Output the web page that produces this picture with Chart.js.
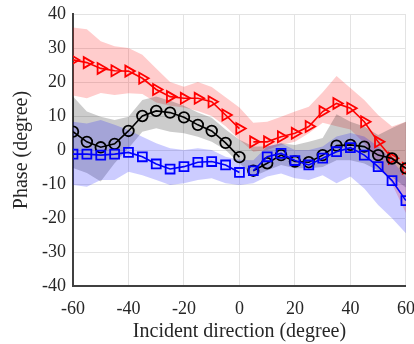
<!DOCTYPE html>
<html>
<head>
<meta charset="utf-8">
<script src="https://cdn.jsdelivr.net/npm/chart.js@4/dist/chart.umd.min.js"></script>
<style>
  html, body { margin: 0; padding: 0; background: #fff; }
  #box { width: 414px; height: 344px; }
</style>
</head>
<body>
<div id="box"><canvas id="graficoFase"></canvas></div>
<script>
const angulos = [-60, -55, -50, -45, -40, -35, -30, -25, -20, -15, -10, -5, 0,
                 5, 10, 15, 20, 25, 30, 35, 40, 45, 50, 55, 60];

const faseVermelho = [26.5, 25.7, 24, 23.3, 23.2, 21.1, 17.8, 15.7, 15.2, 15.2, 14.2, 10.3, 6.3,
                      2.4, 2.4, 3.9, 4.9, 6.9, 11.3, 13.7, 12.3, 8.3, 2.4, -2.4, -5.4];
const faseVermelhoSup = [36, 35.5, 32, 30.5, 30, 28, 24, 20, 18.6, 20, 18.5, 15.5, 12.5,
                         8, 8.3, 9.8, 11.3, 12.7, 17, 21.8, 18.2, 14.7, 10.3, 6.9, 8.3];
const faseVermelhoInf = [16, 15.2, 16.8, 16.2, 16.7, 16.5, 14, 13, 12.5, 11.5, 10, 7, 3,
                         -0.5, 0, 1.5, 2.4, 4.9, 8, 7, 6, 2, -4, -10, -18.5];

const fasePreto = [5.4, 2.4, 0.8, 1.8, 5.6, 10, 11.5, 11, 9.6, 7.4, 5.6, 2.1, -2.1,
                   -6.1, -3.9, -1.5, -3.4, -3.6, -1.5, 1.3, 1.5, 1, -1.5, -2.5, -5.4];
const fasePretoSup = [15.7, 11.3, 9.8, 8.8, 9.8, 14.7, 15.7, 14.5, 13, 11, 9.5, 6, 3,
                      1, 1, 2, 1.5, 2.4, 3.5, 10.5, 8.3, 6.9, 4.4, 6.5, 8.3];
const fasePretoInf = [-5.3, -6.8, -9.3, -3.9, 0.5, 5.4, 6.4, 5.4, 4.9, 3.9, 2.4, 0, -3.9,
                      -7.8, -6, -4.4, -5.4, -5.4, -5, -3, -3, -4, -6, -8, -11];

const faseAzul = [-1.2, -1.2, -1.5, -1.2, -0.7, -2, -4.1, -5.6, -4.9, -3.6, -3.4, -4.4, -6.6,
                  -6.1, -2, -1, -3.1, -4.4, -2.4, -0.5, 0.7, -1.5, -4.9, -9, -14.9];
const faseAzulSup = [8.3, 7.8, 8.8, 7.4, 5.9, 3.9, 2, 0.5, 0, 0.5, 0, -2, -2.9,
                     -3, 1, 2, 0, 0, 1, 4, 5, 4, 1, -3, -8];
const faseAzulInf = [-10.3, -10.8, -8.8, -8.8, -6.4, -7.4, -8.8, -10.3, -9.8, -8.8, -8.3, -9.8, -10.3,
                     -9.8, -7.8, -6.9, -8.3, -8.8, -7.4, -9.8, -7.8, -11.3, -16.2, -20.1, -24.5];

const ticksX = [-60, -40, -20, 0, 20, 40, 60];

function pontos(valores) {
    return angulos.map((a, i) => ({ x: a, y: valores[i] }));
}

function serieLinha(valores, cor, estilo, raio, rotacao) {
    return {
        data: pontos(valores),
        borderColor: cor,
        borderWidth: 1.6,
        pointStyle: estilo,
        pointRadius: raio,
        pointRotation: rotacao,
        pointBorderColor: cor,
        pointBorderWidth: 1.8,
        pointBackgroundColor: 'rgba(0,0,0,0)',
        fill: false,
        tension: 0,
        segment: {
            // a linha e interrompida entre 0 e 5 graus
            borderColor: ctx => ctx.p0.parsed.x === 0 ? 'rgba(0,0,0,0)' : undefined
        }
    };
}

function faixa(superior, inferior, corFundo) {
    return [{
        data: pontos(superior),
        borderWidth: 0,
        pointRadius: 0,
        backgroundColor: corFundo,
        fill: '+1',
        tension: 0
    }, {
        data: pontos(inferior),
        borderWidth: 0,
        pointRadius: 0,
        backgroundColor: corFundo,
        fill: false,
        tension: 0
    }];
}

const fonteSerif = 'Liberation Serif';
const corTexto = '#262626';

// o ultimo dataset e desenhado primeiro
const datasets = [
    serieLinha(faseAzul, '#0000ff', 'rect', 6.3, 0),
    serieLinha(fasePreto, '#000000', 'circle', 5.3, 0),
    serieLinha(faseVermelho, '#ff0000', 'triangle', 6.3, 90),
    ...faixa(faseAzulSup, faseAzulInf, 'rgba(0,0,255,0.2)'),
    ...faixa(fasePretoSup, fasePretoInf, 'rgba(0,0,0,0.2)'),
    ...faixa(faseVermelhoSup, faseVermelhoInf, 'rgba(255,0,0,0.2)')
];

new Chart(document.getElementById('graficoFase').getContext('2d'), {
    type: 'line',
    data: { datasets: datasets },
    options: {
        responsive: true,
        maintainAspectRatio: false,
        animation: false,
        layout: {
            padding: { top: 14, right: 7, left: 0, bottom: 0 }
        },
        plugins: {
            legend: { display: false },
            tooltip: { enabled: false }
        },
        scales: {
            x: {
                type: 'linear',
                min: -60,
                max: 60,
                afterBuildTicks: scale => {
                    scale.ticks = ticksX.map(v => ({ value: v }));
                },
                afterFit: scale => {
                    scale.height = 58;
                    scale.paddingLeft = 0;
                    scale.paddingRight = 0;
                },
                grid: {
                    color: '#e3e3e3',
                    lineWidth: 1,
                    drawTicks: false
                },
                border: { color: '#404040', width: 2 },
                ticks: {
                    color: corTexto,
                    padding: 12,
                    maxRotation: 0,
                    font: { family: fonteSerif, size: 18 }
                },
                title: {
                    display: true,
                    text: 'Incident direction (degree)',
                    color: corTexto,
                    padding: { top: 6, bottom: 0 },
                    font: { family: fonteSerif, size: 20 }
                }
            },
            y: {
                min: -40,
                max: 40,
                afterFit: scale => {
                    scale.width = 73;
                    scale.paddingTop = 0;
                    scale.paddingBottom = 0;
                },
                grid: {
                    color: '#e3e3e3',
                    lineWidth: 1,
                    drawTicks: false
                },
                border: { color: '#404040', width: 2 },
                ticks: {
                    stepSize: 10,
                    color: corTexto,
                    padding: 7,
                    font: { family: fonteSerif, size: 18 }
                },
                title: {
                    display: true,
                    text: 'Phase (degree)',
                    color: corTexto,
                    padding: { top: 10, bottom: 0 },
                    font: { family: fonteSerif, size: 20 }
                }
            }
        }
    }
});
</script>
</body>
</html>
